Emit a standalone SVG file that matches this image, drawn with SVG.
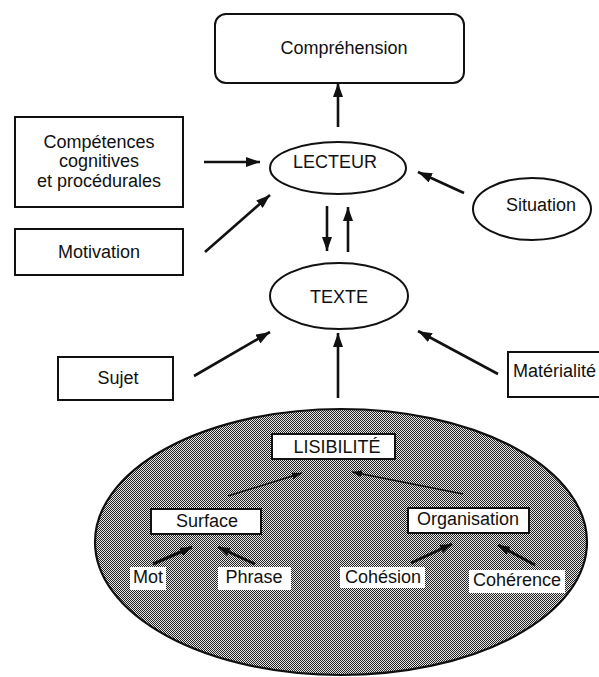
<svg xmlns="http://www.w3.org/2000/svg" width="599" height="677" viewBox="0 0 599 677">
<style>
  .box{fill:#fff;stroke:#111;stroke-width:2}
  .ell{fill:#fff;stroke:#111;stroke-width:2}
  .t{font-family:"Liberation Sans",Arial,sans-serif;font-size:18px;fill:#111;text-anchor:middle}
  .tl{font-family:"Liberation Sans",Arial,sans-serif;font-size:18px;fill:#111}
  .c{fill:none;stroke:#111;stroke-width:2.6;marker-end:url(#ah)}
  .cs{fill:none;stroke:#111;stroke-width:1.4;marker-end:url(#ahs)}
  .cm{fill:none;stroke:#111;stroke-width:3;marker-end:url(#ahm)}
  .lbl{fill:#fff;stroke:none}
</style>
<defs>
  <marker id="ah" markerUnits="userSpaceOnUse" markerWidth="14" markerHeight="10" refX="14" refY="5" orient="auto">
    <path d="M0,0 L14,5 L0,10 z" fill="#111"/>
  </marker>
  <marker id="ahs" markerUnits="userSpaceOnUse" markerWidth="10" markerHeight="7" refX="10" refY="3.5" orient="auto">
    <path d="M0,0 L10,3.5 L0,7 z" fill="#111"/>
  </marker>
  <marker id="ahm" markerUnits="userSpaceOnUse" markerWidth="12" markerHeight="9" refX="12" refY="4.5" orient="auto">
    <path d="M0,0 L12,4.5 L0,9 z" fill="#111"/>
  </marker>
  <pattern id="halftone" width="2" height="2" patternUnits="userSpaceOnUse">
    <rect width="2" height="2" fill="#e6e6e6"/>
    <rect width="1" height="1" fill="#222"/>
    <rect x="1" y="1" width="1" height="1" fill="#222"/>
  </pattern>
</defs>

<g id="lisibilite-zone">
  <ellipse cx="341" cy="542" rx="246" ry="133" fill="url(#halftone)" stroke="#111" stroke-width="2.2"/>
</g>

<g id="comprehension">
  <rect class="box" x="215" y="14" width="249" height="69" rx="11"/>
  <text class="t" x="344" y="54">Compréhension</text>
</g>
<g id="lecteur">
  <ellipse class="ell" cx="338" cy="168" rx="68" ry="26"/>
  <text class="t" x="335" y="168">LECTEUR</text>
</g>
<g id="competences">
  <rect class="box" x="15" y="117" width="168" height="90"/>
  <text class="t" x="99" y="148">Compétences</text>
  <text class="t" x="99" y="167">cognitives</text>
  <text class="t" x="99" y="187">et procédurales</text>
</g>
<g id="motivation">
  <rect class="box" x="15" y="229" width="168" height="46"/>
  <text class="t" x="99" y="258">Motivation</text>
</g>
<g id="situation">
  <ellipse class="ell" cx="532" cy="209" rx="59" ry="31"/>
  <text class="t" x="541" y="211">Situation</text>
</g>
<g id="texte">
  <ellipse class="ell" cx="339" cy="296" rx="69" ry="33"/>
  <text class="t" x="339" y="303">TEXTE</text>
</g>
<g id="sujet">
  <rect class="box" x="58" y="357" width="115" height="43"/>
  <text class="t" x="118" y="384">Sujet</text>
</g>
<g id="materialite">
  <rect class="box" x="508" y="352" width="120" height="45"/>
  <text class="tl" x="513" y="377">Matérialité</text>
</g>
<g id="lisibilite">
  <rect class="box" x="272" y="434" width="123" height="25"/>
  <text class="t" x="337" y="453">LISIBILITÉ</text>
</g>
<g id="surface">
  <rect class="box" x="151" y="509" width="110" height="25"/>
  <text class="t" x="207" y="527">Surface</text>
</g>
<g id="organisation">
  <rect class="box" x="408" y="508" width="121" height="25"/>
  <text class="t" x="468" y="525">Organisation</text>
</g>
<g id="mot">
  <rect class="lbl" x="130" y="567" width="36" height="23"/>
  <text class="t" x="148" y="583">Mot</text>
</g>
<g id="phrase">
  <rect class="lbl" x="218" y="567" width="73" height="23"/>
  <text class="t" x="254" y="583">Phrase</text>
</g>
<g id="cohesion">
  <rect class="lbl" x="340" y="567" width="85" height="21"/>
  <text class="t" x="383" y="583">Cohésion</text>
</g>
<g id="coherence">
  <rect class="lbl" x="469" y="570" width="96" height="23"/>
  <text class="t" x="517" y="586">Cohérence</text>
</g>

<g id="connectors">
  <path class="c" d="M338,127 L338,83"/>
  <path class="c" d="M204,162 L260,162"/>
  <path class="c" d="M205,252 L270,195"/>
  <path class="c" d="M464,193 L418,172"/>
  <path class="c" d="M327,206 L327,251"/>
  <path class="c" d="M348,252 L348,207"/>
  <path class="c" d="M194,376 L270,332"/>
  <path class="c" d="M498,374 L418,331"/>
  <path class="c" d="M338,398 L338,333"/>
  <path class="cs" d="M228,496 L302,473"/>
  <path class="cs" d="M463,494 L352,472"/>
  <path class="cm" d="M153,564 L192,547"/>
  <path class="cm" d="M255,564 L218,547"/>
  <path class="cm" d="M411,563 L452,544"/>
  <path class="cm" d="M535,565 L498,545"/>
</g>
</svg>
